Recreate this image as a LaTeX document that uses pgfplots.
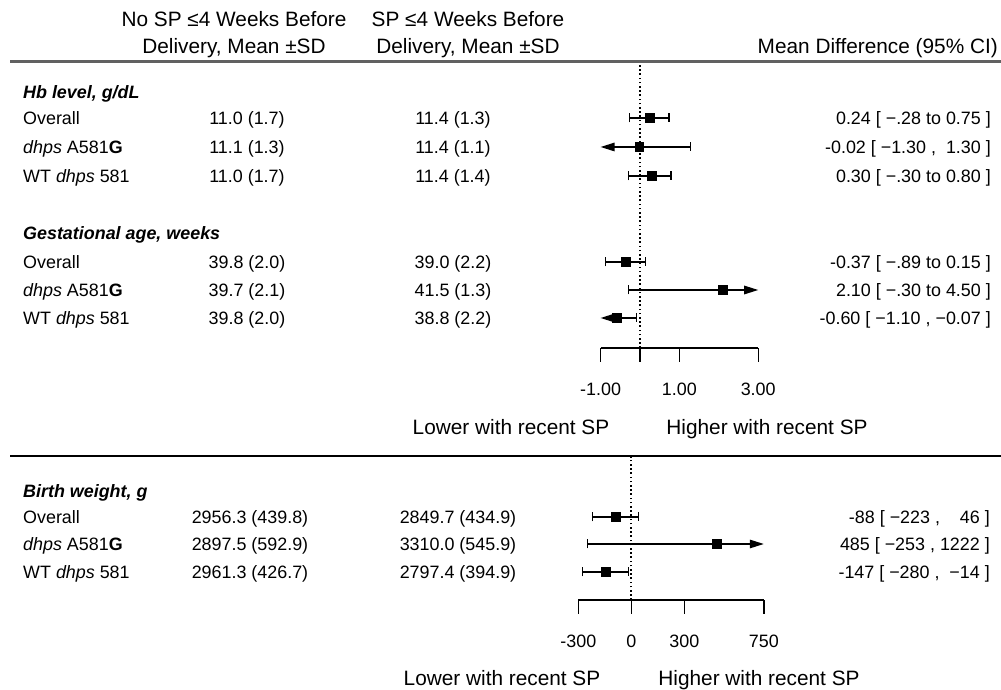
\documentclass[border=0pt]{standalone}
\usepackage{pgfplots}
\pgfplotsset{compat=1.18}
\usepackage{fontspec}
\setmainfont{Liberation Sans}
\usetikzlibrary{arrows.meta}
\newcommand\df{\fontsize{17.9}{21}\selectfont}
\newcommand\hf{\fontsize{20.8}{24}\selectfont}
\tikzset{
  bb/.style={black, line width=1.3pt, arrows={Bar[width=9pt]-Bar[width=9pt]}},
  tb/.style={black, line width=1.3pt, arrows={Triangle[length=14pt,width=8.5pt]-Bar[width=9pt]}},
  bt/.style={black, line width=1.3pt, arrows={Bar[width=9pt]-Triangle[length=14pt,width=8.5pt]}},
  dl/.style={anchor=base west, font=\df, inner sep=0pt},
  dc/.style={anchor=base, font=\df, inner sep=0pt},
  dr/.style={anchor=base east, font=\df, inner sep=0pt},
  hc/.style={anchor=base, font=\hf, inner sep=0pt},
}
\pgfplotsset{
  forest/.style={
    anchor=south west, y=1pt,
    axis x line*=bottom, axis y line=none, ytick=\empty,
    axis line style={-, line width=1.4pt},
    clip=false,
    tick align=outside, major tick length=14pt,
    tick style={black, line width=1.4pt},
    xticklabel style={font=\df, inner sep=0pt, yshift=-21pt},
  }
}
\begin{document}
\begin{tikzpicture}[x=1pt,y=1pt]
\path[use as bounding box] (0,0) rectangle (1001,690);
% column headers
\node[hc] at (234,663.3) {No SP ≤4 Weeks Before};
\node[hc] at (234,636.7) {Delivery, Mean ±SD};
\node[hc] at (468,663.3) {SP ≤4 Weeks Before};
\node[hc] at (468,636.7) {Delivery, Mean ±SD};
\node[anchor=base east, font=\hf, inner sep=0pt] at (998,636.7) {Mean Difference (95\% CI)};
\draw[line width=3pt, black!62] (10,628) -- (1001,628);
\draw[line width=2pt, black] (10,234) -- (1001,234);
% Hb section
\node[dl] at (23,591.7) {\textbf{\textit{Hb level, g/dL}}};
\node[dl] at (23,565.6) {Overall};
\node[dl] at (23,536.6) {\textit{dhps} A581\textbf{G}};
\node[dl] at (23,507.6) {WT \textit{dhps} 581};
\node[dc] at (247,565.6) {11.0 (1.7)};
\node[dc] at (247,536.6) {11.1 (1.3)};
\node[dc] at (247,507.6) {11.0 (1.7)};
\node[dc] at (453,565.6) {11.4 (1.3)};
\node[dc] at (453,536.6) {11.4 (1.1)};
\node[dc] at (453,507.6) {11.4 (1.4)};
\node[dr] at (991,565.6) {0.24 [ −.28 to 0.75 ]};
\node[dr] at (991,536.6) {-0.02 [ −1.30 ,\ \ 1.30 ]};
\node[dr] at (991,507.6) {0.30 [ −.30 to 0.80 ]};
% Gestational section
\node[dl] at (23,450.6) {\textbf{\textit{Gestational age, weeks}}};
\node[dl] at (23,421.6) {Overall};
\node[dl] at (23,393.6) {\textit{dhps} A581\textbf{G}};
\node[dl] at (23,365.6) {WT \textit{dhps} 581};
\node[dc] at (247,421.6) {39.8 (2.0)};
\node[dc] at (247,393.6) {39.7 (2.1)};
\node[dc] at (247,365.6) {39.8 (2.0)};
\node[dc] at (453,421.6) {39.0 (2.2)};
\node[dc] at (453,393.6) {41.5 (1.3)};
\node[dc] at (453,365.6) {38.8 (2.2)};
\node[dr] at (991,421.6) {-0.37 [ −.89 to 0.15 ]};
\node[dr] at (991,393.6) {2.10 [ −.30 to 4.50 ]};
\node[dr] at (991,365.6) {-0.60 [ −1.10 , −0.07 ]};
\node[hc] at (511,255.6) {Lower with recent SP};
\node[hc] at (767,255.6) {Higher with recent SP};
% Birth weight section
\node[dl] at (23,192) {\textbf{\textit{Birth weight, g}}};
\node[dl] at (23,166.6) {Overall};
\node[dl] at (23,139.6) {\textit{dhps} A581\textbf{G}};
\node[dl] at (23,111.6) {WT \textit{dhps} 581};
\node[dc] at (250,166.6) {2956.3 (439.8)};
\node[dc] at (250,139.6) {2897.5 (592.9)};
\node[dc] at (250,111.6) {2961.3 (426.7)};
\node[dc] at (458,166.6) {2849.7 (434.9)};
\node[dc] at (458,139.6) {3310.0 (545.9)};
\node[dc] at (458,111.6) {2797.4 (394.9)};
\node[dr] at (990,166.6) {-88 [ −223 , \phantom{1}\ 46 ]};
\node[dr] at (990,139.6) {485 [ −253 , 1222 ]};
\node[dr] at (990,111.6) {-147 [ −280 , \ −14 ]};
\node[hc] at (502,4.6) {Lower with recent SP};
\node[hc] at (759,4.6) {Higher with recent SP};

% ---------- top forest plot (Hb level, gestational age) ----------
\begin{axis}[forest,
  at={(600.6pt,342pt)},
  x=39.4pt, xmin=-1, xmax=3, ymin=342, ymax=628,
  xtick={-1,0,1,3}, xticklabels={-1.00,,1.00,3.00},
]
\addplot[black, line width=1.8pt, dash pattern=on 1.6pt off 2.6pt] coordinates {(0,342) (0,627)};
% Hb level
\addplot[bb] coordinates {(-0.28,572) (0.75,572)};
\addplot[tb] coordinates {(-1.00,543) (1.30,543)};   % lower -1.30 truncated at -1
\addplot[bb] coordinates {(-0.30,514) (0.80,514)};
% Gestational age
\addplot[bb] coordinates {(-0.89,428) (0.15,428)};
\addplot[bt] coordinates {(-0.30,400) (3.00,400)};   % upper 4.50 truncated at 3
\addplot[tb] coordinates {(-1.00,372) (-0.07,372)};  % lower -1.10 truncated at -1
\addplot[only marks, black, mark=square*, mark size=4.4pt]
  coordinates {(0.24,572) (-0.02,543) (0.30,514) (-0.37,428) (2.10,400) (-0.60,372)};
\end{axis}

% ---------- bottom forest plot (birth weight) ----------
\begin{axis}[forest,
  at={(578.3pt,90pt)},
  x=0.17667pt, xmin=-300, xmax=750, ymin=90, ymax=234,
  xtick={-300,0,300,750}, xticklabels={-300,0,300,750},
]
\addplot[black, line width=1.8pt, dash pattern=on 1.6pt off 2.6pt] coordinates {(0,90) (0,233)};
\addplot[bb] coordinates {(-223,173) (46,173)};
\addplot[bt] coordinates {(-253,146) (750,146)};     % upper 1222 truncated at 750
\addplot[bb] coordinates {(-280,118) (-14,118)};
\addplot[only marks, black, mark=square*, mark size=4.4pt]
  coordinates {(-88,173) (485,146) (-147,118)};
\end{axis}
\end{tikzpicture}
\end{document}
